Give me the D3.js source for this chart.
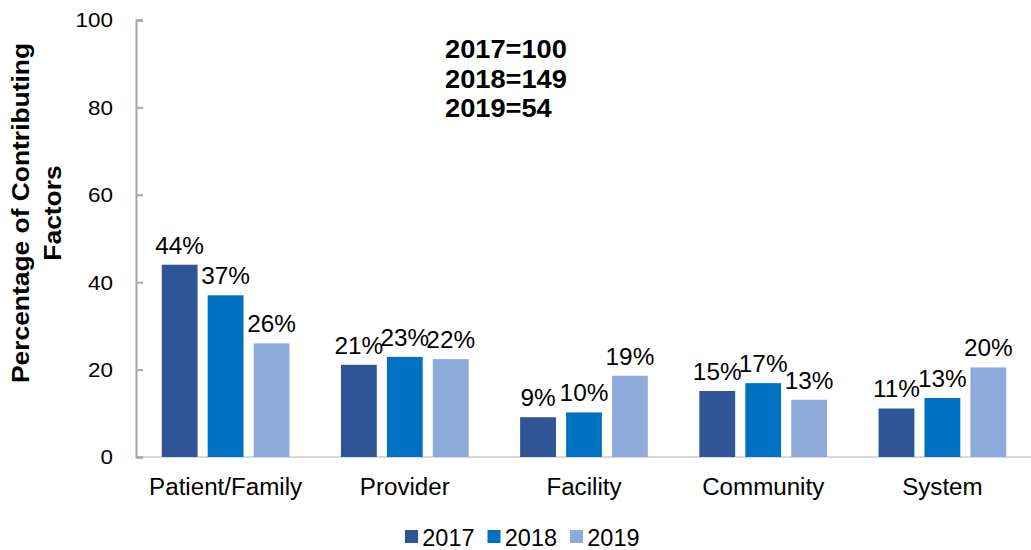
<!DOCTYPE html>
<html>
<head>
<meta charset="utf-8">
<script src="https://cdn.jsdelivr.net/npm/d3@7"></script>
<style>
  body { margin: 0; background: #fff; }
  text { font-family: "Liberation Sans", Arial, sans-serif; fill: #000; }
</style>
</head>
<body>
<svg id="viewer"></svg>
<script>
var categories = ['Patient/Family', 'Provider', 'Facility', 'Community', 'System'];
var years = ['2017', '2018', '2019'];
var values2017 = [44, 21.1, 9.1, 15.1, 11.1];
var values2018 = [37, 22.9, 10.2, 16.9, 13.5];
var values2019 = [26, 22.4, 18.6, 13.1, 20.5];
var labels2017 = ['44%', '21%', '9%', '15%', '11%'];
var labels2018 = ['37%', '23%', '10%', '17%', '13%'];
var labels2019 = ['26%', '22%', '19%', '13%', '20%'];
var totals = ['2017=100', '2018=149', '2019=54'];
var yTicks = [0, 20, 40, 60, 80, 100];
var colors = ['#2f5597', '#0070c0', '#8faadc'];

var seriesValues = [values2017, values2018, values2019];
var seriesLabels = [labels2017, labels2018, labels2019];

var width = 1031, height = 550;
var viewer = d3.select('#viewer')
  .attr('width', width)
  .attr('height', height);

// the source font runs a little wider than Liberation Sans
function place(sel, fx, fy, sx){
  sel.attr('transform', function(d, i){
    return 'translate(' + fx(d, i) + ',' + fy(d, i) + ') scale(' + sx + ',1)';
  });
}

var x0 = d3.scaleBand().domain(categories).range([136, 1032]).padding(0);
var x1 = d3.scaleBand().domain(years).range([0, x0.bandwidth()])
  .paddingInner(0.22).paddingOuter(0.56);
var y = d3.scaleLinear().domain([0, 100]).range([457, 20]);

// x axis baseline
viewer.append('line')
  .attr('x1', 136).attr('x2', width)
  .attr('y1', y(0)).attr('y2', y(0))
  .attr('stroke', '#d9d9d9').attr('stroke-width', 2);

// y axis
var yAxis = viewer.append('g')
  .attr('transform', 'translate(136,0)')
  .call(d3.axisRight(y).tickValues(yTicks).tickSize(7).tickFormat(''));
yAxis.select('.domain').attr('stroke', '#a6a6a6').attr('stroke-width', 2);
yAxis.selectAll('.tick line').attr('stroke', '#a6a6a6').attr('stroke-width', 2);

var ytl = viewer.selectAll('.ytick')
  .data(yTicks)
  .enter().append('text')
    .attr('class', 'ytick')
    .attr('dy', '0.35em')
    .attr('text-anchor', 'end')
    .style('font-size', '21px')
    .text(function(d){ return d; });
place(ytl, function(){ return 113; }, function(d){ return y(d); }, 1.07);

// bars
var groups = viewer.selectAll('.group')
  .data(categories)
  .enter().append('g')
    .attr('class', 'group')
    .attr('transform', function(d){ return 'translate(' + x0(d) + ',0)'; });

function groupData(cat, ci){
  return years.map(function(yr, si){
    return {year: yr, value: seriesValues[si][ci], label: seriesLabels[si][ci], si: si};
  });
}

groups.selectAll('rect')
  .data(groupData)
  .enter().append('rect')
    .attr('x', function(d){ return x1(d.year); })
    .attr('width', x1.bandwidth())
    .attr('y', function(d){ return y(d.value); })
    .attr('height', function(d){ return y(0) - y(d.value); })
    .attr('fill', function(d){ return colors[d.si]; });

var vl = groups.selectAll('.vlabel')
  .data(groupData)
  .enter().append('text')
    .attr('class', 'vlabel')
    .attr('text-anchor', 'middle')
    .style('font-size', '23px')
    .text(function(d){ return d.label; });
place(vl, function(d){ return x1(d.year) + x1.bandwidth() / 2; },
  function(d){ return y(d.value) - 11; }, 1.06);

// category labels
var xl = viewer.selectAll('.xlabel')
  .data(categories)
  .enter().append('text')
    .attr('class', 'xlabel')
    .attr('text-anchor', 'middle')
    .style('font-size', '23px')
    .text(function(d){ return d; });
place(xl, function(d){ return x0(d) + x0.bandwidth() / 2; }, function(){ return 495; }, 1.05);

// y axis title
var title = viewer.append('text')
  .attr('transform', 'translate(0,213) rotate(-90) scale(1.1,1)')
  .attr('text-anchor', 'middle')
  .style('font-size', '24px')
  .style('font-weight', 'bold');
title.append('tspan').attr('x', 0).attr('y', 29).text('Percentage of Contributing');
title.append('tspan').attr('x', 0).attr('y', 61).text('Factors');

// totals annotation
var tt = viewer.selectAll('.total')
  .data(totals)
  .enter().append('text')
    .attr('class', 'total')
    .style('font-size', '25px')
    .style('font-weight', 'bold')
    .text(function(d){ return d; });
place(tt, function(){ return 445; }, function(d, i){ return 58 + i * 29.5; }, 1.09);

// legend
var legend = viewer.selectAll('.legend')
  .data(years)
  .enter().append('g')
    .attr('class', 'legend')
    .attr('transform', function(d, i){ return 'translate(' + (405 + i * 82.5) + ',530)'; });
legend.append('rect')
  .attr('width', 13).attr('height', 13)
  .attr('fill', function(d, i){ return colors[i]; });
legend.append('text')
  .attr('x', 17).attr('y', 16)
  .attr('transform', 'scale(1.02,1)')
  .style('font-size', '23px')
  .text(function(d){ return d; });
</script>
</body>
</html>
